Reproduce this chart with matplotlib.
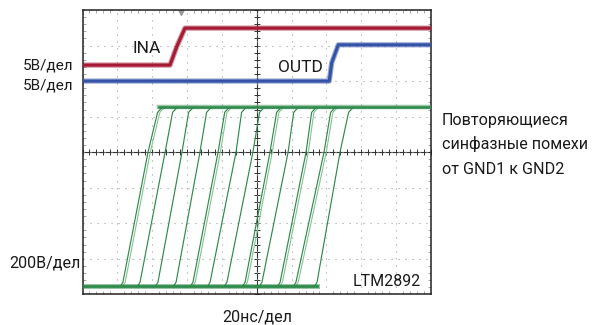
import matplotlib
matplotlib.use("Agg")
import matplotlib.pyplot as plt
import numpy as np

plt.rcParams['font.family'] = ['Roboto', 'DejaVu Sans']

# x in ns (20 ns per division, 10 divisions), y in screen divisions (-4..4)
ina_t = [0, 50.2, 54.1, 58.8, 200]
ina_v = [2.45, 2.45, 2.97, 3.49, 3.49]
outd_t = [0, 141.6, 143.0, 146.8, 200]
outd_v = [2.0, 2.0, 2.51, 3.02, 3.02]

# common mode sweeps (green): where each edge leaves the low level,
# crosses the centre line and reaches the high level
gnd_low = -3.78
gnd_high = 1.27
edge_start = [23.2, 33.0, 43.3, 53.7, 63.4, 73.2, 82.9, 93.3, 103.0, 113.4, 122.5, 134.6]
edge_mid = [37.6, 47.4, 57.1, 67.4, 77.8, 88.1, 97.8, 107.6, 118.0, 128.3, 138.6, 147.8]
edge_top = [43.9, 52.5, 61.7, 72.0, 82.4, 92.1, 102.4, 112.2, 122.0, 132.3, 143.2, 153.5]
ghost = [1, 0, 0, 0, 1, 0, 0, 1, 0, 1, 1, 0]   # sweeps that show a second pale trace

red = '#a51b33'
blue = '#3453a6'
green = '#2f8a4c'
pale_green = '#86c195'

W, H = 594, 325
fig = plt.figure(figsize=(W / 100, H / 100), dpi=100)
ax = fig.add_axes([82.5 / W, 1 - 294.3 / H, (431 - 82.5) / W, (294.3 - 10) / H])
ax.set_xlim(0, 200)
ax.set_ylim(-4, 4)

# graticule
ax.set_xticks(np.arange(0, 201, 20))
ax.set_yticks(np.arange(-4, 4.1, 1))
ax.set_xticks(np.arange(0, 201, 4), minor=True)
ax.set_yticks(np.arange(-4, 4.01, 0.2), minor=True)
ax.tick_params(which='major', length=0, labelbottom=False, labelleft=False)
ax.tick_params(which='minor', direction='in', length=2.5, width=0.6, color='#999999',
               top=True, right=True)
ax.grid(True, which='major', color='#a0a0a0', lw=0.8, linestyle=(0, (1, 5.3)))
for s in ax.spines.values():
    s.set_linewidth(1.1)
    s.set_color('#222222')

ax.axhline(0, color='#333333', lw=0.8, zorder=1)
ax.axvline(100, color='#333333', lw=0.8, zorder=1)
ax.plot(np.arange(0, 201, 4), np.zeros(51), ls='none', marker='|', ms=4, mew=0.7, color='#333333', zorder=1)
ax.plot(np.full(41, 100), np.arange(-4, 4.01, 0.2), ls='none', marker='_', ms=4, mew=0.7, color='#333333', zorder=1)
ax.plot([56.5], [3.93], marker='v', ms=4, color='#999999', ls='none')

# green sweeps
for i in range(len(edge_start)):
    xs = [edge_start[i] - 1.5, edge_start[i], edge_mid[i], edge_top[i] - 0.8, edge_top[i] + 2]
    ys = [gnd_low, gnd_low + 0.12, 0, gnd_high - 0.15, gnd_high]
    ax.plot(xs, ys, color=green, lw=0.85, zorder=3)
    if ghost[i]:
        ax.plot(np.array(xs) + 1.3, ys, color=pale_green, lw=0.8, zorder=2)
ax.plot([0, max(edge_start)], [gnd_low, gnd_low], color=green, lw=3.6, alpha=0.5, zorder=3)
ax.plot([0, max(edge_start)], [gnd_low, gnd_low], color=green, lw=2.0, zorder=3)
ax.plot([min(edge_top), 200], [gnd_high, gnd_high], color=green, lw=3.2, alpha=0.5, zorder=3)
ax.plot([min(edge_top), 200], [gnd_high, gnd_high], color=green, lw=1.8, zorder=3)

# logic traces
for t, v, c in [(ina_t, ina_v, red), (outd_t, outd_v, blue)]:
    ax.plot(t, v, color=c, lw=3.8, alpha=0.5, zorder=4)
    ax.plot(t, v, color=c, lw=2.2, zorder=4)


def ftext(px, py, s, **kw):
    fig.text(px / W, 1 - py / H, s, va='baseline', color='#1a1a1a', **kw)


ftext(73.5, 69.3, '5В/дел', ha='right', fontsize=11)
ftext(73.5, 89.5, '5В/дел', ha='right', fontsize=11)
ftext(80, 267.5, '200В/дел', ha='right', fontsize=11.5)
ftext(257.5, 321, '20нс/дел', ha='center', fontsize=11.5)
ftext(421, 286, 'LTM2892', ha='right', fontsize=11.5)
ftext(133, 53.3, 'INA', ha='left', fontsize=12.5)
ftext(278, 71.8, 'OUTD', ha='left', fontsize=12.5)

note_lines = ['Повторяющиеся', 'синфазные помехи', 'от GND1 к GND2']
for k, line in enumerate(note_lines):
    ftext(441.5, 124.5 + 24.8 * k, line, ha='left', fontsize=11.6)

fig.savefig('out.png', dpi=100)
